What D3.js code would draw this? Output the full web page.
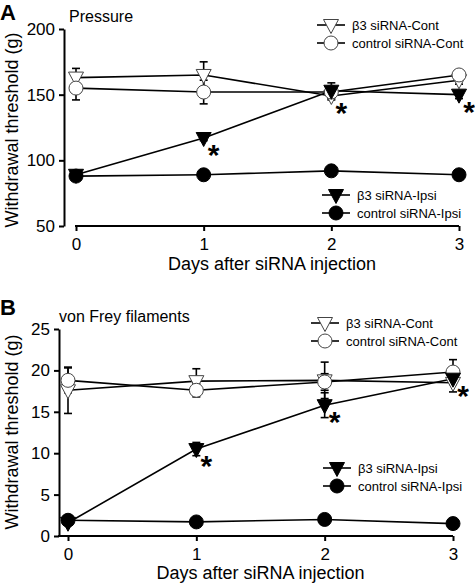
<!DOCTYPE html>
<html><head><meta charset="utf-8">
<script src="https://cdn.jsdelivr.net/npm/d3@7"></script>
<style>
body{margin:0;background:#fff;}
text{font-family:Arial,"Liberation Sans",sans-serif;fill:#000;}
</style></head>
<body><svg id="c" width="475" height="584"></svg>
<script>
// ---------- data ----------
const days = [0, 1, 2, 3];
const seriesNames = ["β3 siRNA-Cont", "control siRNA-Cont", "β3 siRNA-Ipsi", "control siRNA-Ipsi"];

// Panel A: Pressure (g)
const aB3Cont   = [163, 165, 149, 161];
const aB3ContE  = [7, 10, 3, 3];
const aCtlCont  = [155, 152, 152, 165];
const aCtlContE = [9, 9, 3, 2];
const aB3Ipsi   = [89, 117, 153, 150];
const aB3IpsiE  = [2, 2, 6, 3];
const aCtlIpsi  = [88, 89, 92, 89];
const aCtlIpsiE = [2, 1, 2, 1];
const aYTicks = [50, 100, 150, 200];
const aStars = [{s: 2, d: 1}, {s: 0, d: 2}, {s: 2, d: 3}];

// Panel B: von Frey filaments (g)
const bB3Cont   = [17.6, 18.7, 18.8, 18.5];
const bB3ContE  = [2.8, 1.5, 2.2, 1.1];
const bCtlCont  = [18.8, 17.6, 18.6, 19.8];
const bCtlContE = [1.5, 0.8, 1.0, 1.5];
const bB3Ipsi   = [1.6, 10.5, 15.8, 19.0];
const bB3IpsiE  = [0.3, 0.8, 1.5, 0.4];
const bCtlIpsi  = [1.9, 1.7, 2.0, 1.5];
const bCtlIpsiE = [0.3, 0.2, 0.2, 0.2];
const bYTicks = [0, 5, 10, 15, 20, 25];
const bStars = [{s: 2, d: 1}, {s: 2, d: 2}, {s: 2, d: 3}];

const xTicks = [0, 1, 2, 3];
const xLabel = "Days after siRNA injection";
const yLabel = "Withdrawal threshold (g)";

// ---------- drawing ----------
const svg = d3.select("#c");
const triPath = "M-7.5,-5.5L7.5,-5.5L0,8.5Z";

function marker(g, type, filled) {
  if (type === "tri") {
    g.append("path").attr("d", triPath)
      .attr("fill", filled ? "#000" : "#fff")
      .attr("stroke", filled ? "#000" : "#444").attr("stroke-width", 1);
  } else {
    g.append("circle").attr("r", 7)
      .attr("fill", filled ? "#000" : "#fff")
      .attr("stroke", filled ? "#000" : "#444").attr("stroke-width", 1);
  }
}

function panel(cfg) {
  const g = svg.append("g");
  const x = d3.scaleLinear().domain([0, 3]).range(cfg.xr);
  const y = d3.scaleLinear().domain(cfg.yd).range(cfg.yr);

  // y axis
  const ya = g.append("g").attr("transform", `translate(${cfg.yAxisX},0)`)
    .call(d3.axisLeft(y).tickValues(cfg.yTicks).tickFormat(d3.format("d")).tickSize(5).tickPadding(4).tickSizeOuter(0));
  ya.selectAll("path,line").attr("stroke", "#000").attr("stroke-width", 2);
  ya.selectAll("text").style("font-size", "17px").attr("fill", "#000");

  // x axis
  const xa = g.append("g").attr("transform", `translate(0,${cfg.yr[0]})`)
    .call(d3.axisBottom(x).tickValues(xTicks).tickFormat(d3.format("d")).tickSize(5).tickPadding(7).tickSizeOuter(0));
  xa.select(".domain").remove();
  xa.selectAll("line").attr("stroke", "#000").attr("stroke-width", 2);
  xa.selectAll("text").style("font-size", "17px").attr("fill", "#000");
  g.append("line").attr("x1", cfg.xStart).attr("x2", x(3)).attr("y1", cfg.yr[0]).attr("y2", cfg.yr[0])
    .attr("stroke", "#000").attr("stroke-width", 2);

  // labels
  g.append("text").attr("x", (cfg.xStart + x(3)) / 2 + 5).attr("y", cfg.xLabelY)
    .attr("text-anchor", "middle").style("font-size", "18px").text(xLabel);
  g.append("text").attr("transform", `translate(18,${cfg.yLabelY}) rotate(-90)`)
    .attr("text-anchor", "middle").style("font-size", "18px").text(yLabel);
  g.append("text").attr("x", 0).attr("y", cfg.letterY).style("font-size", "22px")
    .style("font-weight", "bold").text(cfg.letter);
  g.append("text").attr("x", cfg.titleX).attr("y", cfg.titleY).style("font-size", "16px").text(cfg.title);

  const series = cfg.series;
  const line = d3.line().x((d, i) => x(days[i])).y(d => y(d));
  // lines
  series.forEach(s => {
    g.append("path").attr("d", line(s.v)).attr("fill", "none")
      .attr("stroke", "#000").attr("stroke-width", 1.6);
  });
  // error bars
  series.forEach(s => {
    s.v.forEach((v, i) => {
      const cx = x(days[i]), e = s.e[i];
      const eg = g.append("g").attr("stroke", "#000").attr("stroke-width", 1.6);
      eg.append("line").attr("x1", cx).attr("x2", cx).attr("y1", y(v - e)).attr("y2", y(v + e));
      eg.append("line").attr("x1", cx - 4).attr("x2", cx + 4).attr("y1", y(v + e)).attr("y2", y(v + e));
      eg.append("line").attr("x1", cx - 4).attr("x2", cx + 4).attr("y1", y(v - e)).attr("y2", y(v - e));
    });
  });
  // markers
  series.forEach(s => {
    s.v.forEach((v, i) => {
      const mg = g.append("g").attr("transform", `translate(${x(days[i])},${y(v)})`);
      marker(mg, s.type, s.filled);
    });
  });
  // significance stars
  cfg.stars.forEach(st => {
    const s = series[st.s];
    g.append("text").attr("x", x(st.d) + 10).attr("y", y(s.v[st.d]) + 27)
      .attr("text-anchor", "middle").style("font-size", "30px").style("font-weight", "bold").text("*");
  });

  // legends
  function legend(items, lx, ly0) {
    items.forEach((s, k) => {
      const ly = ly0 + k * 18;
      g.append("line").attr("x1", lx - 14).attr("x2", lx + 14).attr("y1", ly).attr("y2", ly)
        .attr("stroke", "#000").attr("stroke-width", 1.6);
      const mg = g.append("g").attr("transform", `translate(${lx},${ly})`);
      marker(mg, s.type, s.filled);
      g.append("text").attr("x", lx + 21).attr("y", ly + 5).style("font-size", "13px").text(s.name);
    });
  }
  legend([series[0], series[1]], cfg.leg1[0], cfg.leg1[1]);
  legend([series[2], series[3]], cfg.leg2[0], cfg.leg2[1]);
}

panel({
  xr: [76, 459], yd: [50, 200], yr: [226, 29], yAxisX: 64, xStart: 75,
  yTicks: aYTicks, xLabelY: 270, yLabelY: 130, letter: "A", letterY: 20,
  title: "Pressure", titleX: 69, titleY: 22,
  series: [
    {name: seriesNames[0], v: aB3Cont, e: aB3ContE, type: "tri", filled: false},
    {name: seriesNames[1], v: aCtlCont, e: aCtlContE, type: "circ", filled: false},
    {name: seriesNames[2], v: aB3Ipsi, e: aB3IpsiE, type: "tri", filled: true},
    {name: seriesNames[3], v: aCtlIpsi, e: aCtlIpsiE, type: "circ", filled: true}
  ],
  stars: aStars, leg1: [331, 25], leg2: [336, 195]
});

panel({
  xr: [68, 453], yd: [0, 25], yr: [536, 329], yAxisX: 59, xStart: 58,
  yTicks: bYTicks, xLabelY: 579, yLabelY: 432, letter: "B", letterY: 315,
  title: "von Frey filaments", titleX: 59, titleY: 322,
  series: [
    {name: seriesNames[0], v: bB3Cont, e: bB3ContE, type: "tri", filled: false},
    {name: seriesNames[1], v: bCtlCont, e: bCtlContE, type: "circ", filled: false},
    {name: seriesNames[2], v: bB3Ipsi, e: bB3IpsiE, type: "tri", filled: true},
    {name: seriesNames[3], v: bCtlIpsi, e: bCtlIpsiE, type: "circ", filled: true}
  ],
  stars: bStars, leg1: [325, 323], leg2: [337, 468]
});
</script></body></html>
